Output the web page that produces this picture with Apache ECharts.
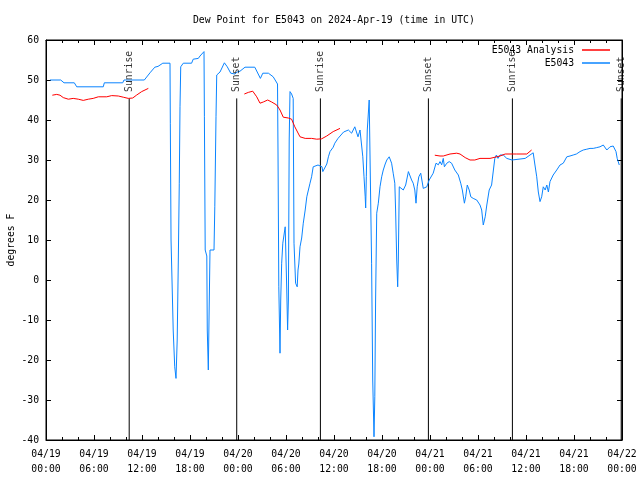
<!DOCTYPE html>
<html>
<head>
<meta charset="utf-8">
<script src="https://cdn.jsdelivr.net/npm/echarts@6/dist/echarts.min.js"></script>
<style>html,body{margin:0;padding:0;background:#fff;}#c{width:640px;height:480px;}</style>
</head>
<body>
<div id="c"></div>
<script>
// hours since 2024-04-19 00:00 UTC
var tickLabels = ['04/19\n00:00','04/19\n06:00','04/19\n12:00','04/19\n18:00','04/20\n00:00','04/20\n06:00','04/20\n12:00','04/20\n18:00','04/21\n00:00','04/21\n06:00','04/21\n12:00','04/21\n18:00','04/22\n00:00'];
var sunNames = ['Sunrise','Sunset','Sunrise','Sunset','Sunrise','Sunset'];
var sunHours = [10.4, 23.84, 34.3, 47.8, 58.3, 71.9];
var sunTop = 45.4;

var analysisSeg1 = [[0.79,46.2],[1.34,46.4],[1.75,46.2],[2.16,45.6],[2.79,45.2],[3.4,45.4],[4.04,45.2],[4.66,44.9],[5.29,45.2],[5.9,45.4],[6.54,45.8],[7.59,45.8],[8.21,46.1],[9.04,46],[9.66,45.7],[10.29,45.4],[10.84,45.5],[11.34,46.25],[11.96,47.1],[12.79,47.9]];
var analysisSeg2 = [[24.79,46.5],[25.29,46.9],[25.84,47.2],[26.34,45.8],[26.75,44.2],[27.16,44.5],[27.71,45],[28.21,44.5],[28.84,43.75],[29.25,42.5],[29.66,40.7],[30.29,40.5],[30.7,40.2],[31.1,38.3],[31.75,35.8],[32.4,35.4],[33.2,35.4],[33.84,35.2],[34.46,35.3],[35.09,36],[35.9,37.1],[36.75,37.9]];
var analysisSeg3 = [[48.6,31.2],[49.25,31],[49.66,31],[50.5,31.5],[51.34,31.7],[51.75,31.5],[52.4,30.6],[53.0,30],[53.6,30],[54.25,30.4],[55.5,30.4],[56.75,31],[57.4,31.5],[58.84,31.5],[60.1,31.5],[60.7,32.5]];

var obsData = [[0.5,50],[1.84,50],[2.25,49.3],[3.54,49.3],[3.84,48.3],[7.16,48.3],[7.29,49.3],[9.59,49.3],[9.75,50],[12.29,50],[13.0,51.8],[13.6,53.2],[14.0,53.4],[14.6,54.2],[15.5,54.2],[15.54,39.2],[15.63,10],[15.84,-7.5],[15.9,-12.5],[16.09,-21.7],[16.25,-24.6],[16.4,-15],[16.54,5],[16.66,24.2],[16.75,43.3],[16.84,53.3],[17.16,54.2],[18.2,54.2],[18.4,55.2],[19.04,55.4],[19.25,56],[19.75,57.1],[19.8,40.8],[19.9,7.5],[20.1,6],[20.16,-12.5],[20.29,-22.5],[20.375,-10],[20.5,7.5],[21.0,7.5],[21.1,18.3],[21.25,40.8],[21.34,51.25],[21.75,52],[22.3,54.3],[22.66,53.3],[23.09,51.7],[23.6,51.5],[23.9,52],[24.25,52.2],[24.875,53.2],[26.1,53.2],[26.8,50.4],[27.1,51.7],[27.8,51.7],[28.0,52.2],[28.4,50.8],[28.94,49],[29.0,32],[29.1,-1.7],[29.25,-18.3],[29.34,-5],[29.46,4.2],[29.6,9.2],[29.75,9.6],[29.9,13.3],[30.0,13.3],[30.09,-2],[30.2,-12.5],[30.3,-5],[30.4,35],[30.5,47.1],[30.7,46.5],[30.9,45.4],[31.0,9.2],[31.2,-0.8],[31.4,-1.7],[31.5,2.5],[31.6,4],[31.75,8.3],[31.96,10.5],[32.16,14.2],[32.4,17.5],[32.6,20.8],[32.8,22.5],[33.0,24.2],[33.2,25.8],[33.4,28.3],[33.6,28.75],[34.0,28.75],[34.25,28.3],[34.5,28.3],[34.6,27.1],[34.75,27.1],[35.1,29],[35.3,30.8],[35.5,32.1],[35.9,33.2],[36.1,34.2],[36.5,35.4],[36.75,35.8],[37.2,37],[37.4,37.5],[37.8,37.5],[38.2,36.7],[38.6,38.3],[39.0,35.8],[39.25,37.5],[39.46,37.5],[39.6,30.8],[39.75,25.8],[39.9,20.8],[39.96,18],[40.04,25.8],[40.16,37.5],[40.4,45],[40.6,45],[40.7,4.2],[40.84,-25],[41.0,-39.2],[41.1,-29.2],[41.2,-5],[41.34,16.7],[41.54,19.2],[41.75,23.3],[41.96,25.8],[42.16,27.5],[42.4,29],[42.6,30],[42.9,30.8],[43.2,29.2],[43.4,26.7],[43.6,24.2],[43.7,17.5],[43.84,5],[43.96,-1.7],[44.04,5],[44.16,23.3],[44.4,23.3],[44.66,22.5],[44.96,23.75],[45.3,27.1],[45.5,26.7],[45.7,25],[45.9,24.2],[46.1,22.5],[46.25,19.2],[46.4,23.3],[46.6,25.8],[46.84,26.7],[46.96,26.25],[47.16,22.9],[47.6,23.3],[47.9,25],[48.4,26.7],[48.75,29.2],[49.04,28.8],[49.25,29.6],[49.46,28.8],[49.66,30.4],[49.8,28.3],[50.1,29.2],[50.4,29.6],[50.7,29.2],[51.1,27.5],[51.54,26.25],[51.84,24.2],[52.04,22.5],[52.3,19.2],[52.46,20.8],[52.66,23.75],[52.9,22.5],[53.1,20.8],[53.4,20.4],[53.84,20],[54.25,18.75],[54.46,17.5],[54.66,13.75],[54.9,15.8],[55.1,18.75],[55.4,22.5],[55.7,23.75],[55.9,24.2],[56.1,30.4],[56.3,31.25],[56.5,30.4],[56.75,31.25],[57.16,31.25],[57.6,30.4],[57.8,30],[58.25,30],[59.9,30.4],[60.1,30.8],[60.5,31.25],[60.9,31.8],[61.1,29],[61.34,25.8],[61.54,22],[61.75,19.6],[61.96,20.8],[62.16,23.3],[62.4,22.5],[62.6,23.75],[62.8,22],[63.0,24.6],[63.4,26.25],[63.84,27.5],[64.25,28.75],[64.66,29.2],[65.1,30.8],[65.5,31],[65.9,31.25],[66.3,31.5],[66.75,32.1],[67.16,32.5],[67.6,32.7],[68.0,32.9],[68.4,32.9],[68.84,33.1],[69.25,33.3],[69.66,33.75],[70.1,32.5],[70.5,33.3],[70.9,33.5],[71.25,32.1],[71.4,30.4],[71.66,28.75]];

var FONT = 'DejaVu Sans Mono';
var FS = 9.75;
var RED = '#ff0000';
var BLUE = '#0a84ff';

var chart = echarts.init(document.getElementById('c'), null, {renderer: 'canvas'});

var series = [];
sunHours.forEach(function (h, i) {
  series.push({
    type: 'line', xAxisIndex: 0, yAxisIndex: 0, symbol: 'none', silent: true,
    lineStyle: {color: '#000', width: 1}, z: 1,
    data: [[h, -40], [h, sunTop]]
  });
});
series.push({
  type: 'scatter', xAxisIndex: 0, yAxisIndex: 0, silent: true, symbol: 'circle', symbolSize: 1,
  itemStyle: {color: 'rgba(0,0,0,0)'}, z: 5,
  label: {show: true, position: 'top', distance: 6, rotate: 90, align: 'left', verticalAlign: 'middle',
    fontFamily: FONT, fontSize: FS, color: '#000',
    formatter: function (p) { return sunNames[p.dataIndex]; }},
  labelLayout: {hideOverlap: false},
  data: sunHours.map(function (h) { return [h, sunTop]; })
});
[analysisSeg1, analysisSeg2, analysisSeg3].forEach(function (seg) {
  series.push({
    name: 'E5043 Analysis', type: 'line', xAxisIndex: 0, yAxisIndex: 0, symbol: 'none',
    lineStyle: {color: RED, width: 1}, itemStyle: {color: RED}, z: 3, data: seg
  });
});
series.push({
  name: 'E5043', type: 'line', xAxisIndex: 0, yAxisIndex: 0, symbol: 'none',
  lineStyle: {color: BLUE, width: 1}, itemStyle: {color: BLUE}, z: 2, data: obsData
});

var legendCommon = {
  orient: 'vertical', right: 30, padding: 0, align: 'right', itemWidth: 28, itemHeight: 1.5,
  icon: 'rect', textStyle: {fontFamily: FONT, fontSize: FS, color: '#000', padding: [0, 3, 0, 0]},
  selectedMode: false
};

chart.setOption({
  animation: false,
  backgroundColor: '#fff',
  title: {
    text: 'Dew Point for E5043 on 2024-Apr-19 (time in UTC)',
    left: 188, top: 10,
    textStyle: {fontFamily: FONT, fontSize: FS, fontWeight: 'normal', color: '#000'}
  },
  legend: [
    Object.assign({}, legendCommon, {top: 45, data: [{name: 'E5043 Analysis', itemStyle: {color: RED}}]}),
    Object.assign({}, legendCommon, {top: 58, data: [{name: 'E5043', itemStyle: {color: BLUE}}]})
  ],
  grid: {left: 46, right: 18, top: 40, bottom: 40, show: true, borderColor: '#000', borderWidth: 1,
    containLabel: false, outerBoundsMode: 'none'},
  xAxis: [{
    type: 'value', min: 0, max: 72, interval: 6, position: 'bottom',
    axisLine: {show: true, onZero: false, lineStyle: {color: '#000', width: 1}},
    axisTick: {show: true, inside: true, length: 5, lineStyle: {color: '#000'}},
    minorTick: {show: true, splitNumber: 3, length: 3, lineStyle: {color: '#000'}},
    splitLine: {show: false},
    axisLabel: {fontFamily: FONT, fontSize: FS, color: '#000', margin: 7, lineHeight: 15,
      formatter: function (v) { return tickLabels[Math.round(v / 6)]; }}
  }, {
    type: 'value', min: 0, max: 72, interval: 6, position: 'top',
    axisLine: {show: true, onZero: false, lineStyle: {color: '#000', width: 1}},
    axisTick: {show: true, inside: true, length: 5, lineStyle: {color: '#000'}},
    minorTick: {show: true, splitNumber: 3, length: 3, lineStyle: {color: '#000'}},
    splitLine: {show: false}, axisLabel: {show: false}
  }],
  yAxis: [{
    type: 'value', min: -40, max: 60, interval: 10, position: 'left',
    name: 'degrees F', nameLocation: 'middle', nameGap: 30, nameRotate: 90, nameMoveOverlap: false,
    nameTextStyle: {fontFamily: FONT, fontSize: FS, color: '#000'},
    axisLine: {show: true, onZero: false, lineStyle: {color: '#000', width: 1}},
    axisTick: {show: true, inside: true, length: 5, lineStyle: {color: '#000'}},
    splitLine: {show: false},
    axisLabel: {fontFamily: FONT, fontSize: FS, color: '#000', margin: 7}
  }, {
    type: 'value', min: -40, max: 60, interval: 10, position: 'right',
    axisLine: {show: true, onZero: false, lineStyle: {color: '#000', width: 1}},
    axisTick: {show: true, inside: true, length: 5, lineStyle: {color: '#000'}},
    splitLine: {show: false}, axisLabel: {show: false}
  }],
  series: series
});
</script>
</body>
</html>
